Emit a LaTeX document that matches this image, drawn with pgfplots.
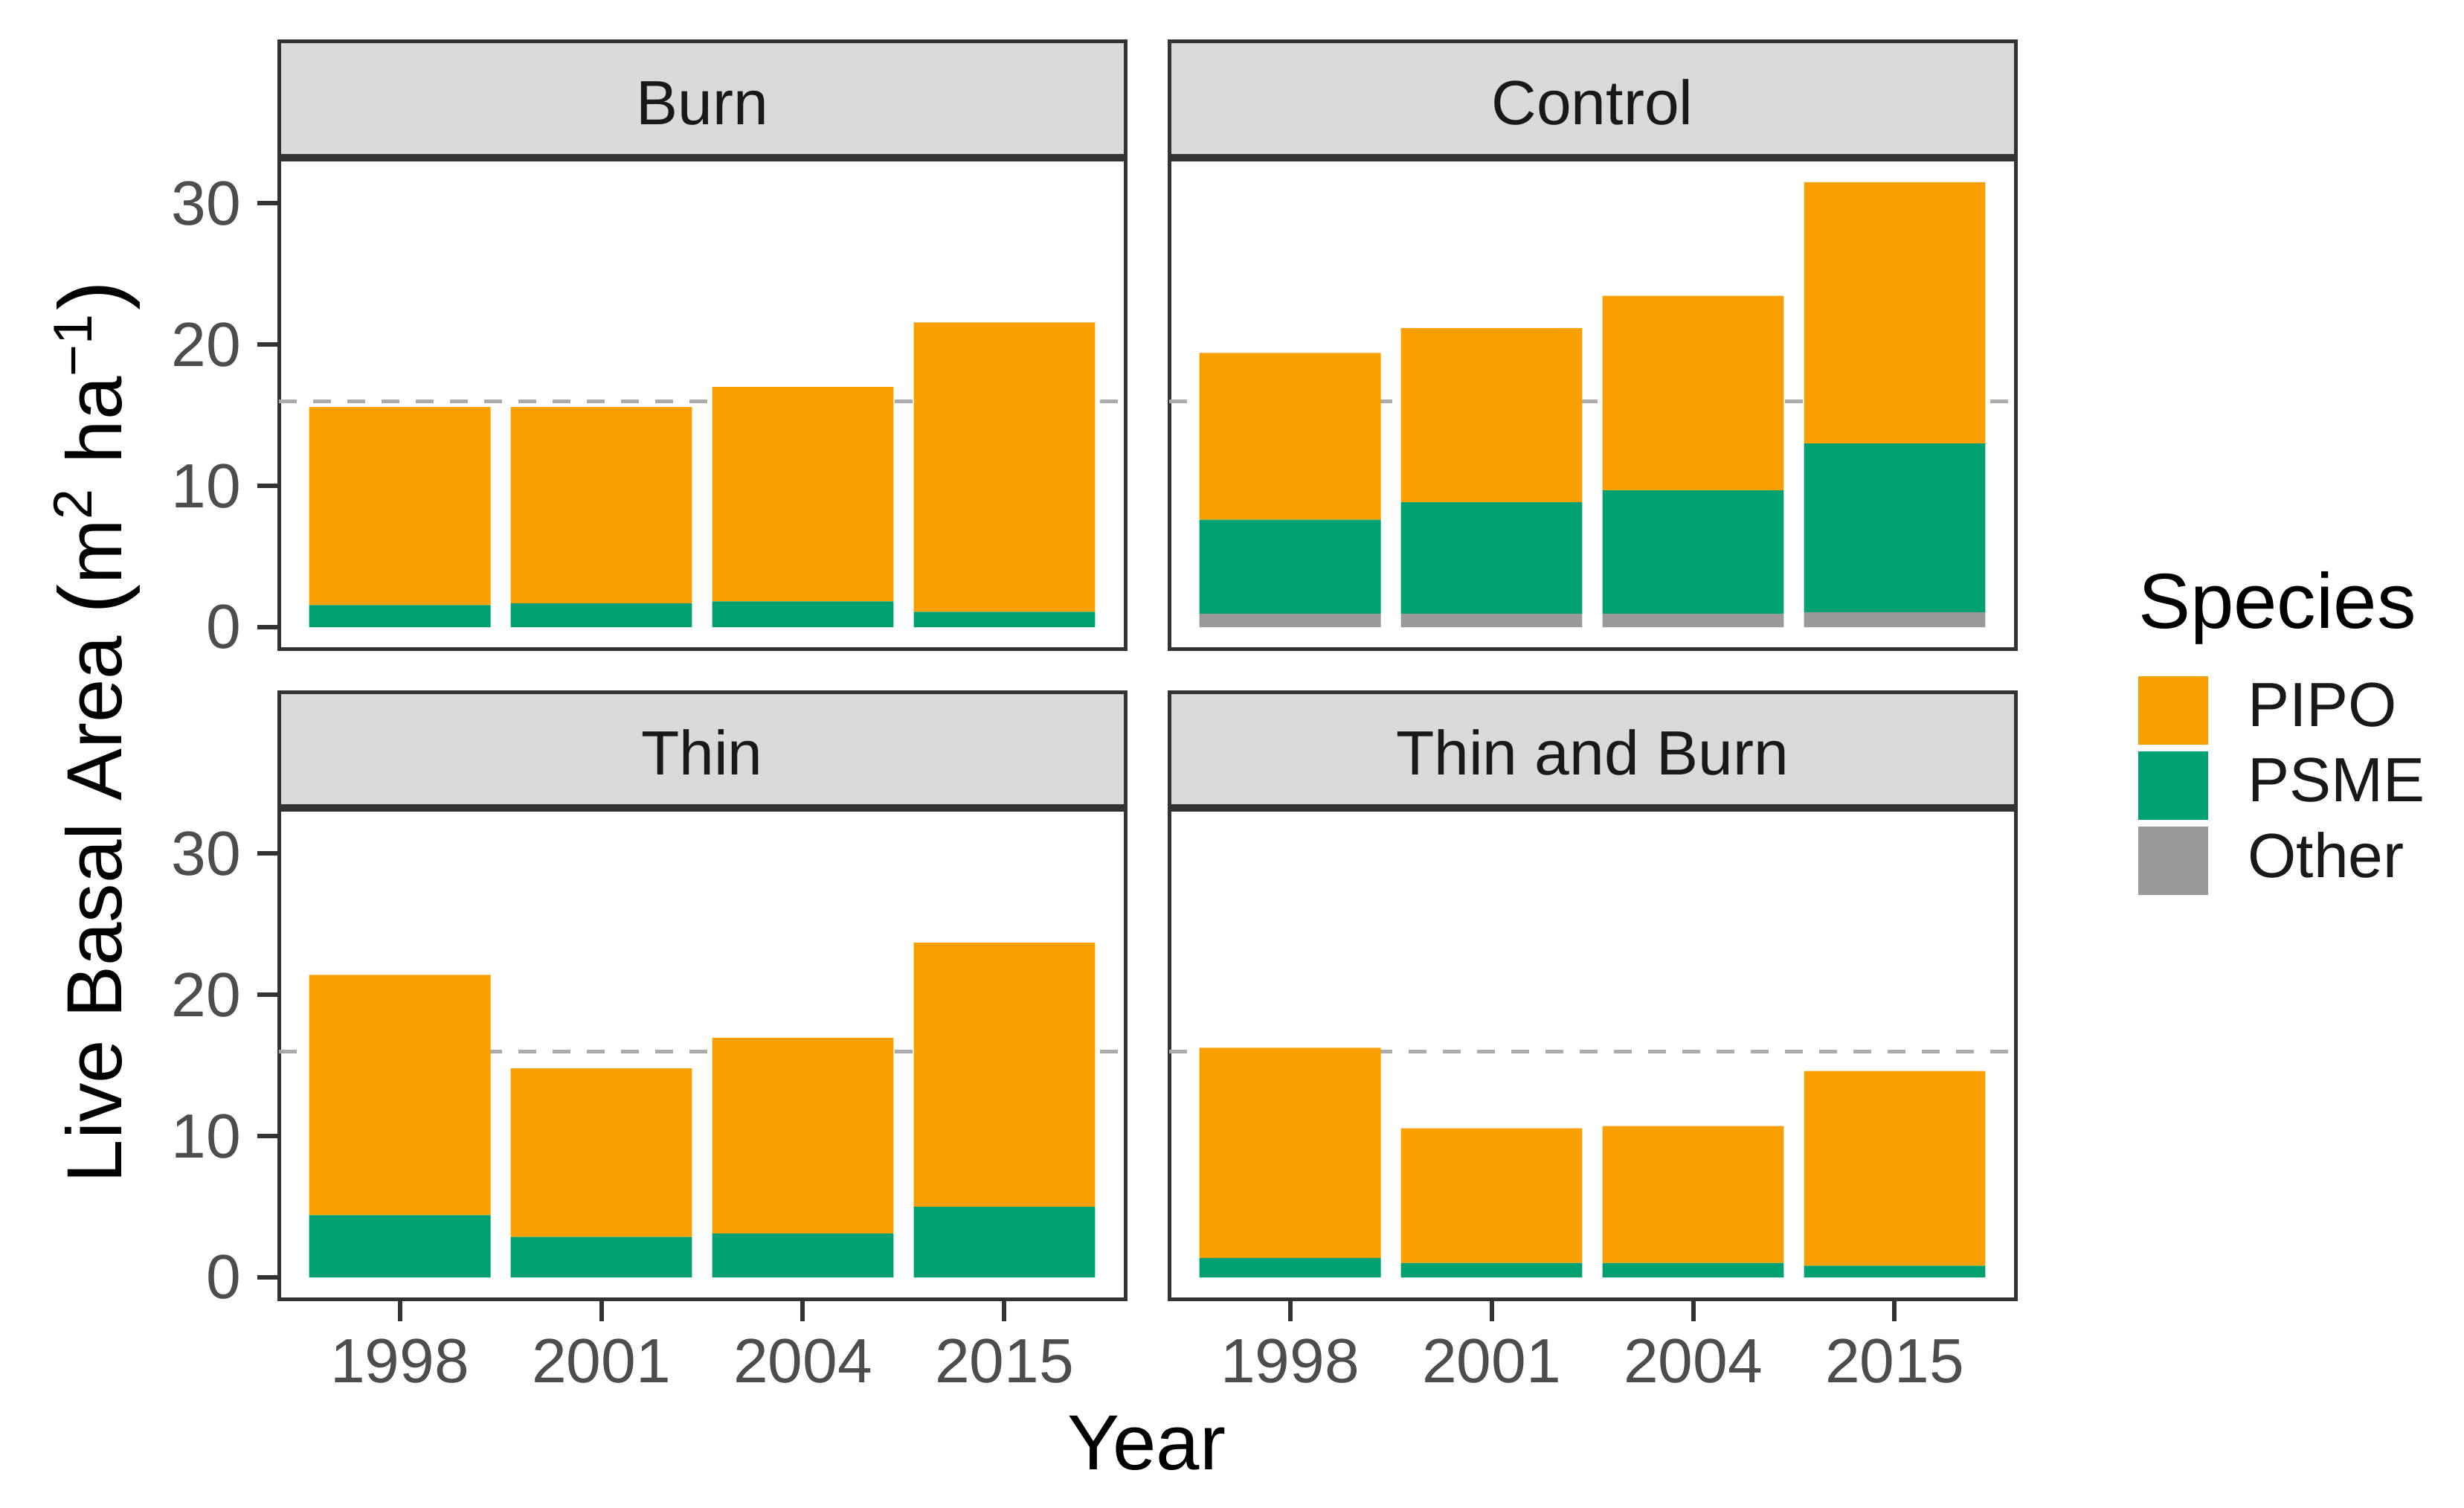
\documentclass[border=0pt]{standalone}
\usepackage{pgfplots}
\pgfplotsset{compat=1.18}
\usepackage{fontspec}
\setmainfont{Liberation Sans}

\definecolor{pipo}{HTML}{F9A000}
\definecolor{psme}{HTML}{00A070}
\definecolor{other}{HTML}{999999}
\definecolor{frame}{HTML}{333333}
\definecolor{ticklab}{HTML}{4D4D4D}
\definecolor{stripbg}{HTML}{D9D9D9}
\definecolor{refline}{HTML}{ABABAB}

\newcommand{\smallfont}{\fontsize{8.4}{10}\selectfont}
\newcommand{\bigfont}{\fontsize{10.5}{12}\selectfont}

\pgfplotsset{
  panel/.style={
    scale only axis, width=113.8pt, height=65.8pt,
    anchor=south west,
    xmin=0.4, xmax=4.6, ymin=-1.575, ymax=33.075,
    ybar stacked, bar width=0.9,
    axis line style={frame, line width=0.5pt},
    tick align=outside, major tick length=2.86pt,
    tick style={frame, line width=0.6pt},
    xtick pos=bottom, ytick pos=left,
    xtick={1,2,3,4}, xticklabels={1998,2001,2004,2015},
    ytick={0,10,20,30},
    ticklabel style={font=\smallfont, text=ticklab},
    yticklabel style={xshift=1.3pt},
    xticklabel style={yshift=1.1pt},
    /pgf/number format/assume math mode=true,
  },
  seg/.style={fill=#1, draw=none,
    legend image code/.code={\fill[##1] (0pt,-4.6pt) rectangle (9.4pt,4.6pt);}},
  ref/.style={sharp plot, stack plots=false, forget plot, refline,
    line width=0.5pt, dash pattern=on 2.4pt off 2.2pt},
}

\begin{document}
\begin{tikzpicture}
\useasboundingbox (0pt,0pt) rectangle (331.3pt,202.7pt);

% Burn
\begin{axis}[panel, at={(37.5pt,115.4pt)}, xtick=\empty]
\addplot[seg=other] coordinates {(1,0) (2,0) (3,0) (4,0)};
\addplot[seg=psme] coordinates {(1,1.56) (2,1.70) (3,1.83) (4,1.09)};
\addplot[seg=pipo] coordinates {(1,14.02) (2,13.88) (3,15.17) (4,20.48)};
\addplot[ref] coordinates {(0.4,16) (4.6,16)};
\end{axis}

% Control
\begin{axis}[panel, at={(157.2pt,115.4pt)}, xtick=\empty, ytick=\empty,
  legend cell align=left,
  legend style={at={(1.1432,-0.0517)}, anchor=north west, draw=none, fill=none,
    inner sep=0pt, row sep=0.9pt, font=\smallfont,
    nodes={inner sep=0.45pt, text=black!90},
    /tikz/every odd column/.append style={column sep=4.9pt}},
  reverse legend]
\addplot[seg=other] coordinates {(1,0.96) (2,0.96) (3,0.96) (4,1.05)};
\addlegendentry{Other}
\addplot[seg=psme] coordinates {(1,6.64) (2,7.88) (3,8.72) (4,11.95)};
\addlegendentry{PSME}
\addplot[seg=pipo] coordinates {(1,11.82) (2,12.32) (3,13.77) (4,18.5)};
\addlegendentry{PIPO}
\addplot[ref] coordinates {(0.4,16) (4.6,16)};
\end{axis}

% Thin
\begin{axis}[panel, at={(37.5pt,28.0pt)}]
\addplot[seg=other] coordinates {(1,0) (2,0) (3,0) (4,0)};
\addplot[seg=psme] coordinates {(1,4.41) (2,2.87) (3,3.11) (4,5.0)};
\addplot[seg=pipo] coordinates {(1,17.01) (2,11.93) (3,13.86) (4,18.7)};
\addplot[ref] coordinates {(0.4,16) (4.6,16)};
\end{axis}

% Thin and Burn
\begin{axis}[panel, at={(157.2pt,28.0pt)}, ytick=\empty]
\addplot[seg=other] coordinates {(1,0) (2,0) (3,0) (4,0)};
\addplot[seg=psme] coordinates {(1,1.38) (2,1.03) (3,1.03) (4,0.82)};
\addplot[seg=pipo] coordinates {(1,14.88) (2,9.52) (3,9.68) (4,13.79)};
\addplot[ref] coordinates {(0.4,16) (4.6,16)};
\end{axis}

% facet strips
\begin{scope}[line width=0.5pt]
\filldraw[fill=stripbg, draw=frame] (37.5pt,181.7pt) rectangle (151.3pt,197.1pt);
\filldraw[fill=stripbg, draw=frame] (157.2pt,181.7pt) rectangle (271.0pt,197.1pt);
\filldraw[fill=stripbg, draw=frame] (37.5pt,94.3pt) rectangle (151.3pt,109.6pt);
\filldraw[fill=stripbg, draw=frame] (157.2pt,94.3pt) rectangle (271.0pt,109.6pt);
\end{scope}
\begin{scope}[every node/.style={anchor=base, inner sep=0pt, font=\smallfont, text=black!90}]
\node at (94.4pt,185.95pt) {Burn};
\node at (214.1pt,185.95pt) {Control};
\node at (94.4pt,98.5pt) {Thin};
\node at (214.1pt,98.5pt) {Thin and Burn};
\end{scope}

% axis titles and legend title
\node[anchor=base, inner sep=0pt, font=\bigfont] at (154.2pt,5.1pt) {Year};
\node[anchor=base, inner sep=0pt, font=\bigfont, rotate=90] at (16.3pt,104.3pt)
  {Live Basal Area {\fontsize{12}{12}\selectfont(}m\textsuperscript{2} ha\textsuperscript{−1}{\fontsize{12}{12}\selectfont)}};
\node[anchor=base west, inner sep=0pt, font=\bigfont] at (287.3pt,118.2pt) {Species};
\end{tikzpicture}
\end{document}
